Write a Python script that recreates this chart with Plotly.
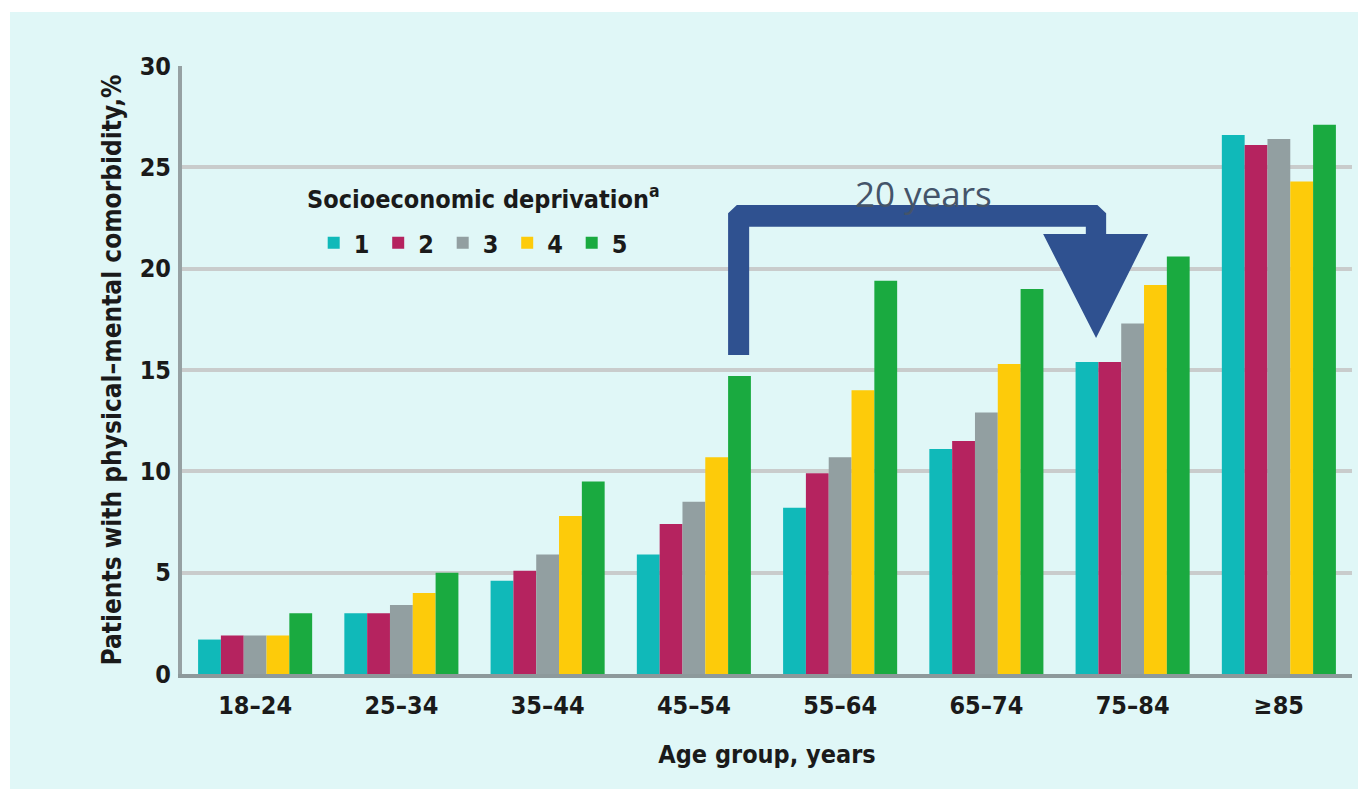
import plotly.graph_objects as go

# Age groups on the x axis
age_groups = ["18–24", "25–34", "35–44", "45–54", "55–64", "65–74", "75–84", "≥85"]

# Share of patients with physical–mental comorbidity (%) by deprivation quintile
q1 = [1.7, 3.0, 4.6, 5.9, 8.2, 11.1, 15.4, 26.6]
q2 = [1.9, 3.0, 5.1, 7.4, 9.9, 11.5, 15.4, 26.1]
q3 = [1.9, 3.4, 5.9, 8.5, 10.7, 12.9, 17.3, 26.4]
q4 = [1.9, 4.0, 7.8, 10.7, 14.0, 15.3, 19.2, 24.3]
q5 = [3.0, 5.0, 9.5, 14.7, 19.4, 19.0, 20.6, 27.1]

quintile_names = ["1", "2", "3", "4", "5"]
quintile_values = [q1, q2, q3, q4, q5]
quintile_colors = ["#10b9b9", "#b5235f", "#929fa1", "#fdcb0a", "#1aaa40"]

BG = "#e0f7f7"
FONT = "DejaVu Sans Condensed, Liberation Sans Narrow, Roboto, sans-serif"
N = len(age_groups)
YMAX = 30

fig = go.Figure()
for name, vals, col in zip(quintile_names, quintile_values, quintile_colors):
    fig.add_trace(go.Bar(
        x=age_groups, y=vals, name=name,
        marker=dict(color=col, line=dict(width=0)),
    ))


def px(idx, val):
    """Convert (category index, value) into paper coordinates."""
    return (idx + 0.5) / N, val / YMAX


# Elbow arrow from 45–54 to 75–84
outer_l, inner_l = 3.234, 3.378
outer_r, inner_r = 5.819, 5.680
bottom, top_out, top_in = 15.74, 23.14, 22.07
head_y, head_l, head_r = 21.71, 5.388, 6.106
tip = (5.75, 16.58)
r = 0.06
pts = [
    (outer_l, bottom), (outer_l, top_out - 0.4), (outer_l + r, top_out),
    (outer_r - r, top_out), (outer_r, top_out - 0.4), (outer_r, head_y),
    (head_r, head_y), tip, (head_l, head_y), (inner_r, head_y),
    (inner_r, top_in), (inner_l, top_in), (inner_l, bottom),
]
path = "M " + " L ".join(f"{px(a, b)[0]:.5f},{px(a, b)[1]:.5f}" for a, b in pts) + " Z"
fig.add_shape(type="path", path=path, xref="paper", yref="paper",
              fillcolor="#2f5190", line=dict(width=0), layer="above")

tx, ty = px(4.567, 23.73)
fig.add_annotation(x=tx, y=ty, xref="paper", yref="paper", text="20 years",
                   showarrow=False, xanchor="center", yanchor="middle",
                   font=dict(family="Open Sans, sans-serif", size=35, color="#44546a"))

# Legend heading
fig.add_annotation(x=(305 - 182) / 1170, y=(674 - 198) / 608, xref="paper", yref="paper",
                   text="<b>Socioeconomic deprivation<sup>a</sup></b>",
                   showarrow=False, xanchor="left", yanchor="middle",
                   font=dict(size=25, family=FONT, color="#1a1a1a"))

# White margin strips along the left and top edges
fig.add_shape(type="rect", xref="paper", yref="paper",
              x0=-0.2, x1=(10 - 182) / 1170, y0=-0.3, y1=1.2,
              fillcolor="white", line=dict(width=0), layer="below")
fig.add_shape(type="rect", xref="paper", yref="paper",
              x0=-0.2, x1=1.1, y0=(674 - 12) / 608, y1=1.2,
              fillcolor="white", line=dict(width=0), layer="below")

fig.update_layout(
    width=1358, height=789,
    margin=dict(l=182, r=6, t=66, b=115),
    paper_bgcolor=BG, plot_bgcolor=BG,
    barmode="group", bargap=0.22, bargroupgap=0,
    font=dict(family=FONT, color="#1a1a1a"),
    showlegend=True,
    legend=dict(
        orientation="h", x=(333 - 19.3 - 182) / 1170, y=(674 - 243) / 608,
        xanchor="left", yanchor="middle",
        bgcolor="rgba(0,0,0,0)",
        font=dict(size=25, family=FONT, weight="bold"),
        entrywidth=19.5, entrywidthmode="pixels", itemsizing="constant",
        tracegroupgap=0,
    ),
    xaxis=dict(
        type="category", range=[-0.5, N - 0.5],
        showline=True, linecolor="#8d999b", linewidth=4,
        showgrid=False, ticks="", ticklabelstandoff=6,
        tickfont=dict(size=25, family=FONT, weight="bold"),
        title=dict(text="<b>Age group, years</b>", font=dict(size=25, family=FONT),
                   standoff=27),
    ),
    yaxis=dict(
        range=[0, YMAX], tickvals=[0, 5, 10, 15, 20, 25, 30],
        showline=True, linecolor="#96a1a3", linewidth=4,
        showgrid=True, gridcolor="#c9cccc", gridwidth=4,
        zeroline=False, ticks="", ticklabelstandoff=2,
        tickfont=dict(size=25, family=FONT, weight="bold"),
        title=dict(text="<b>Patients with physical–mental comorbidity,%</b>",
                   font=dict(size=26, family=FONT), standoff=12),
    ),
)

fig.write_html("out.html")
